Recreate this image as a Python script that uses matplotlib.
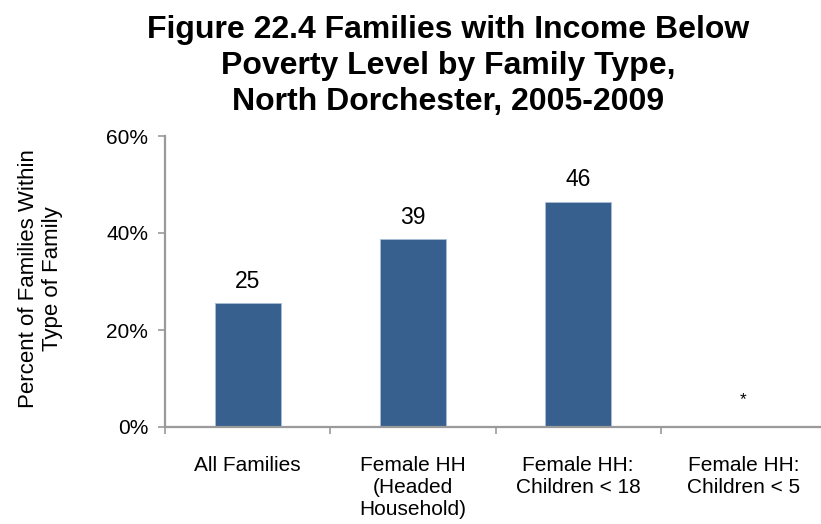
import numpy as np
import matplotlib
matplotlib.use('Agg')
import matplotlib.pyplot as plt
from matplotlib.ticker import FixedLocator, PercentFormatter

plt.rcParams['font.family'] = ['Liberation Sans', 'DejaVu Sans']

# Данные
categories = ['All Families', 'Female HH\n(Headed\nHousehold)',
              'Female HH:\nChildren < 18', 'Female HH:\nChildren < 5']
values = [25.5, 38.7, 46.4, np.nan]  # последнее значение не показано
labels = ['25', '39', '46', '*']
yticks = [0, 20, 40, 60]

bar_color = '#37608f'
axis_color = '#9a9a9a'

fig = plt.figure(figsize=(8.21, 5.24), dpi=100)
ax = fig.add_axes([165 / 821, (524 - 427) / 524, (826 - 165) / 821, (427 - 136) / 524])

x = np.arange(len(categories))
ax.bar(x, np.nan_to_num(values), width=0.4, color=bar_color, edgecolor='#a9bfd9', linewidth=0.6, zorder=2)

for i, v in enumerate(values):
    if np.isnan(v):
        ax.text(x[i], 4.7, labels[i], ha='center', va='baseline', fontsize=12.5)
    else:
        ax.text(x[i], v + 3.2, labels[i], ha='center', va='baseline', fontsize=16.5)

ax.set_xlim(-0.5, 3.5)
ax.set_ylim(0, 60)
ax.set_yticks(yticks)
ax.yaxis.set_major_formatter(PercentFormatter(decimals=0))

# деления по границам категорий, подписи по центрам
ax.xaxis.set_major_locator(FixedLocator(np.arange(-0.5, 4, 1)))
ax.xaxis.set_minor_locator(FixedLocator(x))
ax.set_xticklabels([], minor=False)
ax.set_xticklabels(categories, minor=True, fontsize=15, linespacing=1.2)
ax.tick_params(axis='x', which='minor', length=0, pad=21)
ax.tick_params(axis='x', which='major', length=5, width=1.2, color=axis_color, direction='out')
ax.tick_params(axis='y', length=5, width=1.2, color=axis_color, labelsize=15, pad=7)

for s in ['top', 'right']:
    ax.spines[s].set_visible(False)
for s in ['left', 'bottom']:
    ax.spines[s].set_color(axis_color)
    ax.spines[s].set_linewidth(1.6)

ax.set_ylabel('Percent of Families Within\nType of Family', fontsize=16, linespacing=1.2)
ax.yaxis.set_label_coords(-0.154, 0.51)

fig.text(0.546, 0.971, 'Figure 22.4 Families with Income Below\nPoverty Level by Family Type,\nNorth Dorchester, 2005-2009',
         ha='center', va='top', fontsize=23, fontweight='bold', linespacing=1.25)

fig.savefig('out.png', dpi=100)
